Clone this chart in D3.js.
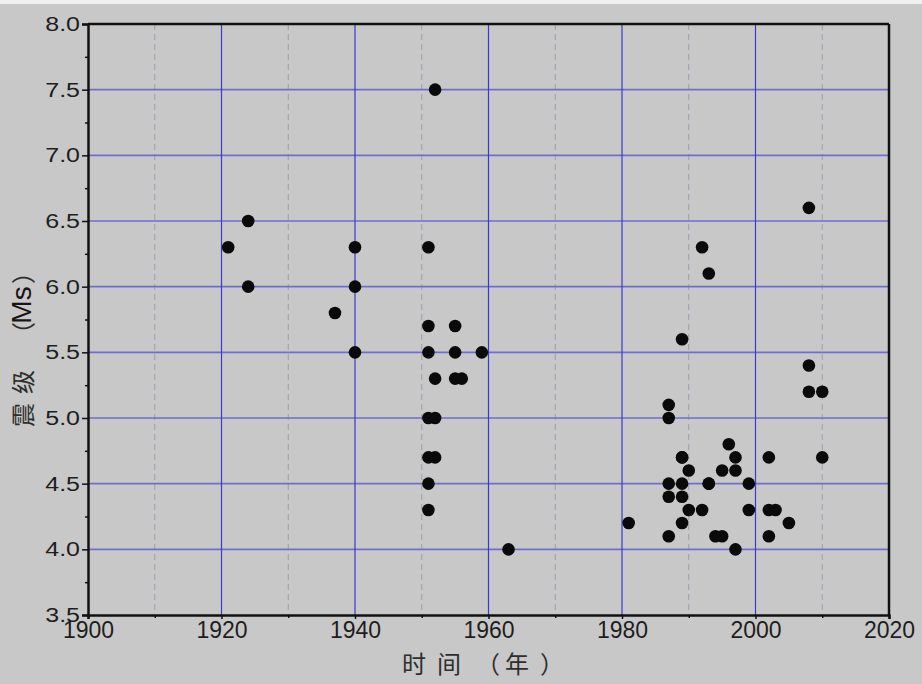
<!DOCTYPE html>
<html><head><meta charset="utf-8">
<script src="https://cdn.jsdelivr.net/npm/d3@7"></script>
<style>html,body{margin:0;padding:0;background:#c8c8c8;}svg{display:block;}</style>
</head><body>
<script>
const years = [1921,1924,1924,1937,1940,1940,1940,
  1951,1951,1951,1951,1951,1951,1951,1952,1952,1952,1952,
  1955,1955,1955,1956,1959,1963,
  1981,1987,1987,1987,1987,1987,1989,1989,1989,1989,1989,1989,
  1990,1990,1992,1992,1993,1993,1993,1994,1995,1995,1996,1997,1997,1997,
  1999,1999,2002,2002,2002,2003,2005,2008,2008,2008,2010,2010];
const magnitudes = [6.3,6.5,6.0,5.8,6.3,6.0,5.5,
  6.3,5.7,5.5,5.0,4.7,4.5,4.3,7.5,5.3,5.0,4.7,
  5.7,5.5,5.3,5.3,5.5,4.0,
  4.2,5.1,5.0,4.5,4.4,4.1,5.6,4.7,4.5,4.4,4.2,4.7,
  4.6,4.3,6.3,4.3,6.1,4.5,4.5,4.1,4.6,4.1,4.8,4.7,4.6,4.0,
  4.5,4.3,4.7,4.3,4.1,4.3,4.2,6.6,5.4,5.2,5.2,4.7];
const xTicks = [1900,1920,1940,1960,1980,2000,2020];
const xMinor = [1910,1930,1950,1970,1990,2010];
const yTicks = [3.5,4.0,4.5,5.0,5.5,6.0,6.5,7.0,7.5,8.0];
const yMinor = [3.75,4.25,4.75,5.25,5.75,6.25,6.75,7.25,7.75];
const xTitleChars = ["时","间"," ","（","年","）"];
const yTitleParts = ["震","级","（","Ms","）"];

const W = 922, H = 684;
const m = {l:88, r:33, t:24, b:69};
const svg = d3.select("body").append("svg").attr("width", W).attr("height", H);
svg.append("rect").attr("width", W).attr("height", H).attr("fill", "#c8c8c8");
svg.append("rect").attr("width", W).attr("height", 4).attr("fill", "#f0f0f0");

const x = d3.scaleLinear().domain([1900, 2020]).range([m.l, W - m.r]);
const y = d3.scaleLinear().domain([3.5, 8.0]).range([H - m.b, m.t]);

const g = svg.append("g");
g.selectAll(".vminor").data(xMinor).join("line")
  .attr("x1", d => x(d)).attr("x2", d => x(d))
  .attr("y1", y(8)).attr("y2", y(3.5))
  .attr("stroke", "#9c9cb0").attr("stroke-width", 1).attr("stroke-dasharray", "6,4");
g.selectAll(".hgrid").data(yTicks.slice(1, -1)).join("line")
  .attr("x1", x(1900)).attr("x2", x(2020))
  .attr("y1", d => y(d)).attr("y2", d => y(d))
  .attr("stroke", "#6e6ed0").attr("stroke-width", 1.6);
g.selectAll(".vgrid").data(xTicks.slice(1, -1)).join("line")
  .attr("x1", d => x(d)).attr("x2", d => x(d))
  .attr("y1", y(8)).attr("y2", y(3.5))
  .attr("stroke", "#3a3ad0").attr("stroke-width", 1.2);

const fontNum = "'Liberation Sans', Arial, sans-serif";
const xAxis = svg.append("g").attr("transform", `translate(0,${y(3.5)})`)
  .call(d3.axisBottom(x).tickValues(xTicks).tickFormat(d3.format("d")).tickSize(4).tickPadding(3));
svg.append("g").attr("transform", `translate(0,${y(3.5)})`)
  .call(d3.axisBottom(x).tickValues(xMinor).tickFormat("").tickSize(3))
  .call(a => a.select(".domain").remove());
const yAxis = svg.append("g").attr("transform", `translate(${x(1900)},0)`)
  .call(d3.axisLeft(y).tickValues(yTicks).tickFormat(d3.format(".1f")).tickSize(6).tickPadding(2));
svg.append("g").attr("transform", `translate(${x(1900)},0)`)
  .call(d3.axisLeft(y).tickValues(yMinor).tickFormat("").tickSize(3))
  .call(a => a.select(".domain").remove());
[xAxis, yAxis].forEach(a => {
  a.select(".domain").attr("stroke", "#111").attr("stroke-width", 2.5);
  a.selectAll("text").attr("font-family", fontNum).attr("fill", "#1e1e1e");
});
xAxis.selectAll("text").attr("font-size", 23);
yAxis.selectAll("text").attr("font-size", 20).attr("x", 0)
  .attr("transform", "translate(-8,0) scale(1.25,1)");
svg.selectAll(".tick line").attr("stroke", "#111").attr("stroke-width", 1.5);
svg.append("line").attr("x1", x(1900)).attr("x2", x(2020)).attr("y1", y(8)).attr("y2", y(8))
  .attr("stroke", "#111").attr("stroke-width", 2.5);
svg.append("line").attr("x1", x(2020)).attr("x2", x(2020)).attr("y1", y(8)).attr("y2", y(3.5))
  .attr("stroke", "#111").attr("stroke-width", 2.5);

const pts = years.map((yr, i) => ({yr, m: magnitudes[i]}));
svg.append("g").selectAll("circle").data(pts).join("circle")
  .attr("cx", d => x(d.yr)).attr("cy", d => y(d.m)).attr("r", 6.3).attr("fill", "#0a0a0a");

const fontCJK = "'Noto Sans CJK SC', 'Liberation Sans', sans-serif";
const xPos = [402, 437, 462, 476, 505, 540];
const xt = svg.append("text").attr("y", 673)
  .attr("font-family", fontCJK).attr("font-size", 24).attr("fill", "#2e2e2e");
xt.selectAll("tspan").data(xTitleChars).join("tspan")
  .attr("x", (d, i) => xPos[i]).text(d => d);
// y title: each part rotated about its own centre
const yCenters = [415, 382, 334, 305, 272];
const yTitle = svg.append("g");
yTitle.selectAll("text").data(yTitleParts).join("text")
  .attr("transform", (d, i) => `translate(21,${yCenters[i]}) rotate(-90)`)
  .attr("text-anchor", "middle").attr("dominant-baseline", "central")
  .attr("font-family", d => /[A-Za-z]/.test(d) ? fontNum : fontCJK)
  .attr("font-size", d => /[A-Za-z]/.test(d) ? 28 : 24)
  .attr("fill", d => /[A-Za-z]/.test(d) ? "#151515" : "#2e2e2e")
  .text(d => d);
</script>
</body></html>
